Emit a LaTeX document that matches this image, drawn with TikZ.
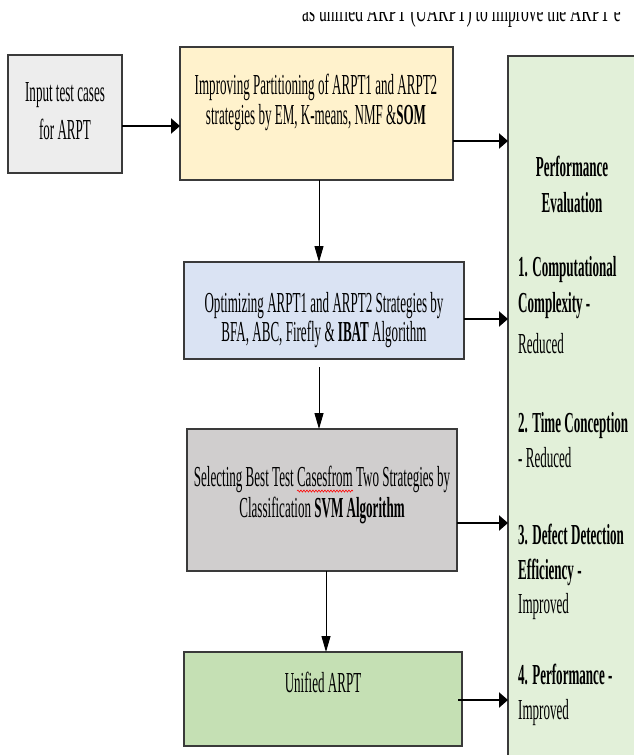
\documentclass[tikz,border=0pt]{standalone}
\usepackage{fontspec}
\setmainfont{Liberation Serif}[FakeStretch=0.45]
\newfontfamily\topfont{Liberation Serif}[FakeStretch=0.555]
\usetikzlibrary{arrows.meta,decorations.pathmorphing}
\definecolor{inpgray}{HTML}{EDEDED}
\definecolor{yelfill}{HTML}{FFF2CC}
\definecolor{bluefill}{HTML}{DAE3F3}
\definecolor{grayfill}{HTML}{D0CECE}
\definecolor{greenfill}{HTML}{C5E0B4}
\definecolor{perffill}{HTML}{E2F0D9}
\definecolor{edge}{HTML}{3A3A3A}
\tikzset{
  boxnode/.style={draw=edge, line width=1.3pt, inner sep=0pt, outer sep=0pt, anchor=north west},
  txt/.style={font=\fontsize{29}{34}\selectfont, inner sep=0pt, anchor=base},
  ltxt/.style={font=\fontsize{29}{34}\selectfont, inner sep=0pt, anchor=base west},
  harrow/.style={line width=2.5pt, -{Triangle[length=9pt,width=15pt]}},
  varrow/.style={line width=1pt, -{Triangle[length=16pt,width=9pt]}},
}
\begin{document}
\begin{tikzpicture}[x=1pt,y=-1pt]
\useasboundingbox (0,0) rectangle (633,755);
\fill[white] (0,0) rectangle (633,755);

% cut-off text at the top (only its lower part shows, as in the source)
\begin{scope}
\clip (0,12) rectangle (633,40);
\node[inner sep=0pt, anchor=base west, font=\topfont\fontsize{28}{34}\selectfont] (toptxt) at (302,21) {as unified ARPT (UARPT) to improve the ARPT e};
\end{scope}

% boxes
\node[boxnode, fill=inpgray, minimum width=114pt, minimum height=118pt] (inp) at (8,55) {};
\node[boxnode, fill=yelfill, minimum width=273pt, minimum height=133pt] (yel) at (180,47) {};
\node[boxnode, fill=bluefill, minimum width=280pt, minimum height=97pt] (blue) at (184,262) {};
\node[boxnode, fill=grayfill, minimum width=270pt, minimum height=142pt] (gray) at (187,429) {};
\node[boxnode, fill=greenfill, minimum width=278pt, minimum height=94pt] (unif) at (184,652) {};
\node[boxnode, fill=perffill, minimum width=200pt, minimum height=760pt] (perf) at (508,56) {};

% texts
\node[txt] (inp1) at (65,101) {Input test cases};
\node[txt] (inp2) at (65,139) {for ARPT};
\node[txt] (yel1) at (316,94) {Improving Partitioning of ARPT1 and ARPT2};
\node[txt] (yel2) at (316,124) {strategies by EM, K-means, NMF \&\textbf{SOM}};
\node[txt] (blue1) at (324,312) {Optimizing ARPT1 and ARPT2 Strategies by};
\node[txt] (blue2) at (324,341) {BFA, ABC, Firefly \& \textbf{IBAT} Algorithm};
\node[txt] (gray1) at (322,486) {Selecting Best Test Casesfrom Two Strategies by};
\node[txt] (gray2) at (322,517) {Classification \textbf{SVM Algorithm}};
\node[txt] (unif1) at (323,692) {Unified ARPT};
\draw[red, line width=0.6pt, decorate, decoration={snake, amplitude=1pt, segment length=3pt}] (297,491) -- (353,491);

\node[txt] (pe1) at (572,176) {\textbf{Performance}};
\node[txt] (pe2) at (572,212) {\textbf{Evaluation}};
\node[ltxt] (c1) at (518,276) {\textbf{1. Computational}};
\node[ltxt] (c2) at (518,312) {\textbf{Complexity -}};
\node[ltxt] (c3) at (518,353) {Reduced};
\node[ltxt] (t1) at (518,432) {\textbf{2. Time Conception}};
\node[ltxt] (t2) at (518,467) {- Reduced};
\node[ltxt] (d1) at (518,544) {\textbf{3. Defect Detection}};
\node[ltxt] (d2) at (518,579) {\textbf{Efficiency -}};
\node[ltxt] (d3) at (518,613) {Improved};
\node[ltxt] (p1) at (518,684) {\textbf{4. Performance -}};
\node[ltxt] (p2) at (518,719) {Improved};

% helper coordinates for connector positions
\coordinate (h0) at (0,126);
\coordinate (h1) at (0,141);
\coordinate (h2) at (0,319);
\coordinate (h3) at (0,523);
\coordinate (h4) at (0,700);
\coordinate (v1) at (319,0);
\coordinate (v3) at (326,0);

% connectors
\draw[harrow] (inp.east |- h0) -- (yel.west |- h0);
\draw[harrow] (yel.east |- h1) -- (perf.west |- h1);
\draw[harrow] (blue.east |- h2) -- (perf.west |- h2);
\draw[harrow] (gray.east |- h3) -- (perf.west |- h3);
\draw[harrow, shorten <=-4pt] (unif.east |- h4) -- (perf.west |- h4);
\draw[varrow] (yel.south -| v1) -- (blue.north -| v1);
\draw[varrow, shorten <=8pt] (blue.south -| v1) -- (gray.north -| v1);
\draw[varrow] (gray.south -| v3) -- (unif.north -| v3);
\end{tikzpicture}
\end{document}
